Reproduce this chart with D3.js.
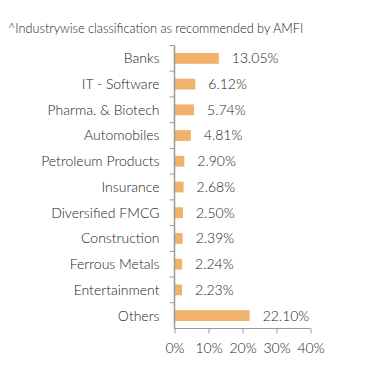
<!DOCTYPE html>
<html><head><meta charset="utf-8">
<script src="https://cdn.jsdelivr.net/npm/d3@7"></script>
<style>body{margin:0;background:#fff;} text{font-family:Lato, sans-serif;}</style>
</head><body>
<svg id="c" width="391" height="382"></svg>
<script>
const categories = ["Banks","IT - Software","Pharma. & Biotech","Automobiles","Petroleum Products","Insurance","Diversified FMCG","Construction","Ferrous Metals","Entertainment","Others"];
const values = [13.05,6.12,5.74,4.81,2.90,2.68,2.50,2.39,2.24,2.23,22.10];
const xTicks = [0,10,20,30,40];
const title = "^Industrywise classification as recommended by AMFI";

(function(){
const svg = d3.select("#c");
const mLeft = 174.5, mRight = 310.5, mTop = 45.5, mBottom = 328.5;
const x = d3.scaleLinear().domain([0,40]).range([mLeft,mRight]);
const y = d3.scaleBand().domain(categories).range([mTop,mBottom]).paddingInner(0.58).paddingOuter(0.29);
const txt = "#1a1a1a";

svg.append("text").attr("x",8).attr("y",33).attr("fill","#222").attr("font-size","12.7px").attr("font-weight",300).text(title);

svg.selectAll("rect.bar").data(values).enter().append("rect")
  .attr("x", x(0)).attr("y",(d,i)=>y(categories[i]))
  .attr("width", d=>x(d)-x(0)).attr("height", y.bandwidth())
  .attr("fill","#f1b26b");

svg.selectAll("text.val").data(values).enter().append("text")
  .attr("x", d=>x(d)+13).attr("y",(d,i)=>y(categories[i])+y.bandwidth()/2)
  .attr("dy","0.35em").attr("fill",txt).attr("font-size","14px").attr("font-weight",300)
  .text(d=>d.toFixed(2)+"%");

const yb = d3.range(categories.length+1).map(i=>mTop+i*(mBottom-mTop)/categories.length);
svg.append("line").attr("x1",mLeft).attr("x2",mLeft).attr("y1",mTop).attr("y2",mBottom).attr("stroke","#999").attr("stroke-width",1.5);
svg.selectAll("line.yt").data(yb.slice(0,-1)).enter().append("line")
  .attr("x1",mLeft-5).attr("x2",mLeft).attr("y1",d=>d).attr("y2",d=>d).attr("stroke","#999").attr("stroke-width",1);
svg.selectAll("text.cat").data(categories).enter().append("text")
  .attr("x",159.5).attr("y",d=>y(d)+y.bandwidth()/2).attr("dy","0.35em")
  .attr("text-anchor","end").attr("fill",txt).attr("font-size","14px").attr("font-weight",300).text(d=>d);

const xa = svg.append("g").attr("transform",`translate(0,${mBottom})`)
  .call(d3.axisBottom(x).tickValues(xTicks).tickSize(5).tickPadding(10).tickFormat(d=>d+"%"));
xa.select(".domain").attr("stroke","#999").attr("d",`M${mLeft},0H${mRight}`);
xa.selectAll(".tick line").attr("stroke","#999");
xa.selectAll("text").attr("fill",txt).attr("font-size","14px").attr("font-weight",300).attr("font-family","Lato, sans-serif");
})();
</script>
</body></html>
